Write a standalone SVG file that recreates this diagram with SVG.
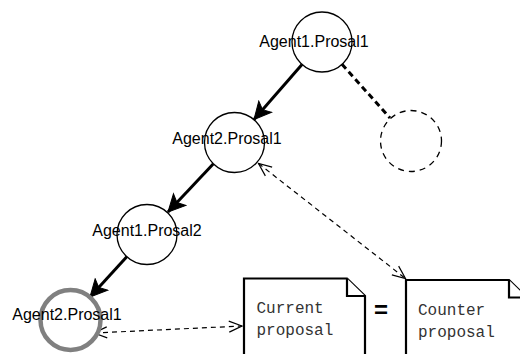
<svg xmlns="http://www.w3.org/2000/svg" width="520" height="354" viewBox="0 0 520 354">
<style>
.node{fill:#fff;stroke:#000;stroke-width:1.3}
.lbl{font-family:"Liberation Sans",Arial,sans-serif;font-size:16px;fill:#000;text-anchor:middle}
.mono{font-family:"Liberation Mono","Courier New",monospace;font-size:16px;fill:#333}
.doc{fill:#fff;stroke:#000;stroke-width:2.2}
.thick{fill:none;stroke:#000;stroke-width:3}
.dash{fill:none;stroke:#000;stroke-width:1.2;stroke-dasharray:5 4}
</style>
<defs>
<marker id="classic" viewBox="0 0 20 20" refX="18" refY="10" markerWidth="20" markerHeight="20" markerUnits="userSpaceOnUse" orient="auto">
<path d="M18,10 L1,1.5 L5,10 L1,18.5 Z" fill="#000" stroke="#000" stroke-width="1"/>
</marker>
<marker id="open" viewBox="0 0 16 16" refX="14" refY="8" markerWidth="16" markerHeight="16" markerUnits="userSpaceOnUse" orient="auto-start-reverse">
<path d="M1,2.5 L14,8 L1,13.5" fill="none" stroke="#000" stroke-width="1.2"/>
</marker>
</defs>
<g id="connectors">
<line class="thick" x1="302" y1="64.5" x2="254" y2="119.5" marker-end="url(#classic)"/>
<line class="thick" x1="213.4" y1="163.8" x2="168" y2="212" marker-end="url(#classic)"/>
<line class="thick" x1="127" y1="256.4" x2="90" y2="297" marker-end="url(#classic)"/>
<line class="thick" x1="342" y1="64.3" x2="390" y2="118" stroke-dasharray="6 4"/>
<line class="dash" x1="258.5" y1="163.5" x2="405.5" y2="278.5" marker-start="url(#open)" marker-end="url(#open)"/>
<line class="dash" x1="94" y1="333" x2="242" y2="326" marker-start="url(#open)" marker-end="url(#open)"/>
</g>
<g id="n1"><circle class="node" cx="322" cy="42" r="30"/><text class="lbl" x="314" y="47">Agent1.Prosal1</text></g>
<g id="n2"><circle class="node" cx="234.5" cy="142.5" r="30"/><text class="lbl" x="227" y="144">Agent2.Prosal1</text></g>
<g id="n3"><circle class="node" cx="147" cy="234.5" r="30"/><text class="lbl" x="147" y="236">Agent1.Prosal2</text></g>
<g id="n4"><circle cx="70.5" cy="320" r="30" fill="#fff" stroke="#808080" stroke-width="4.5"/><text class="lbl" x="67" y="320">Agent2.Prosal1</text></g>
<g id="n5"><circle cx="411" cy="141" r="30.5" fill="#fff" stroke="#000" stroke-width="1.3" stroke-dasharray="6 5"/></g>
<g id="current">
<path class="doc" d="M244,278.5 H347 L365,296 V360 H244 Z"/>
<path class="doc" d="M347,278.5 V296 H365" fill="none"/>
<text class="mono" x="256.5" y="313">Current</text>
<text class="mono" x="256.5" y="335">proposal</text>
</g>
<g id="eq"><text x="381" y="318" font-family="Liberation Sans,Arial,sans-serif" font-size="24" font-weight="bold" text-anchor="middle">=</text></g>
<g id="counter">
<path class="doc" d="M406,280 H509 L527,297.5 V360 H406 Z"/>
<path class="doc" d="M509,280 V297.5 H527" fill="none"/>
<text class="mono" x="418" y="315">Counter</text>
<text class="mono" x="418" y="337">proposal</text>
</g>
</svg>
